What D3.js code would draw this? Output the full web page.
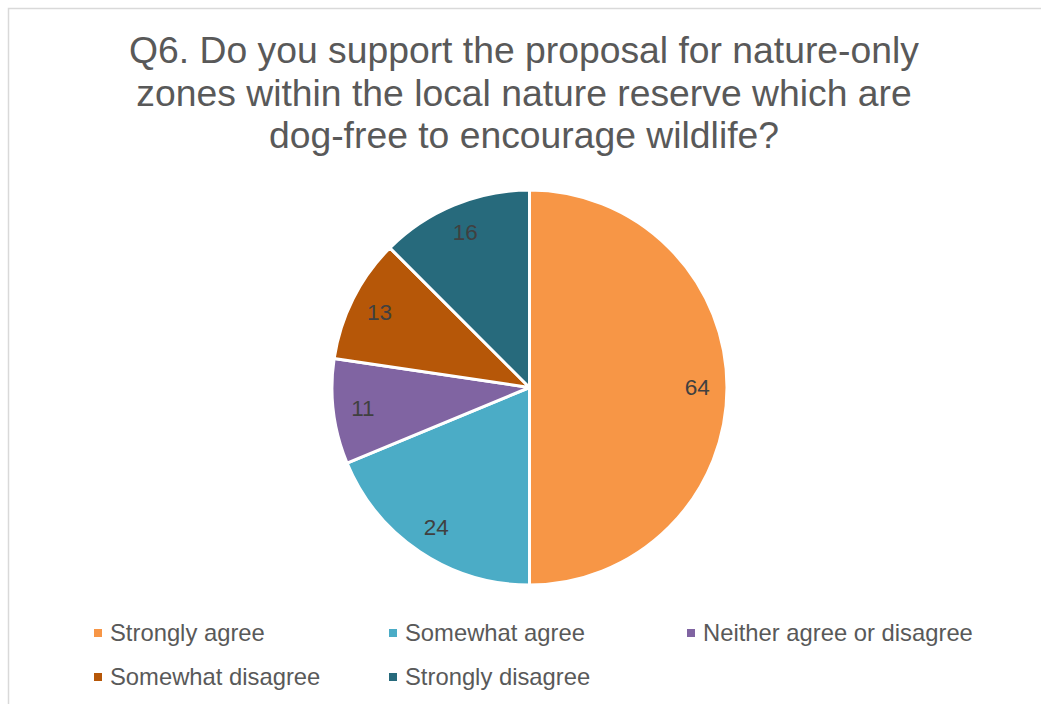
<!DOCTYPE html>
<html><head><meta charset="utf-8">
<script src="https://cdn.jsdelivr.net/npm/d3@7"></script>
<style>body{margin:0;background:#fff}svg{display:block}</style>
</head><body>
<svg id="c" width="1041" height="704"></svg>
<script>
const titleLines = ["Q6. Do you support the proposal for nature-only", "zones within the local nature reserve which are", "dog-free to encourage wildlife?"];
const categories = ["Strongly agree", "Somewhat agree", "Neither agree or disagree", "Somewhat disagree", "Strongly disagree"];
const values = [64, 24, 11, 13, 16];
const colors = ["#F79646", "#4BACC6", "#8064A2", "#B65708", "#276A7C"];

const svg = d3.select("#c");
svg.append("rect").attr("x", 8.5).attr("y", 8.5).attr("width", 1040).attr("height", 700)
  .attr("fill", "#fff").attr("stroke", "#d9d9d9").attr("stroke-width", 1.5);

const font = "'Liberation Sans', Arial, sans-serif";
svg.append("g").selectAll("text").data(titleLines).join("text")
  .attr("x", 524).attr("y", (d, i) => 63 + i * 42.5)
  .attr("text-anchor", "middle").attr("font-family", font).attr("font-size", 37.3)
  .attr("fill", "#595959").text(d => d);

const cx = 529.5, cy = 387.5, r = 197.5;
const pie = d3.pie().sort(null).value(d => d)(values);
const arc = d3.arc().innerRadius(0).outerRadius(r);
const labelArc = d3.arc().innerRadius(r * 0.85).outerRadius(r * 0.85);
const g = svg.append("g").attr("transform", `translate(${cx},${cy})`);
g.selectAll("path").data(pie).join("path")
  .attr("d", arc).attr("fill", (d, i) => colors[i])
  .attr("stroke", "#fff").attr("stroke-width", 3).attr("stroke-linejoin", "round");
g.selectAll("text").data(pie).join("text")
  .attr("transform", d => `translate(${labelArc.centroid(d)})`)
  .attr("text-anchor", "middle").attr("dy", "0.35em")
  .attr("font-family", font).attr("font-size", 22.5).attr("fill", "#404040")
  .text(d => d.data);

const legX = [94, 389, 687], legY = [633, 677];
const leg = svg.append("g").selectAll("g").data(categories).join("g")
  .attr("transform", (d, i) => `translate(${legX[i % 3]},${legY[Math.floor(i / 3)]})`);
leg.append("rect").attr("x", 0).attr("y", -4).attr("width", 8).attr("height", 8)
  .attr("fill", (d, i) => colors[i]);
leg.append("text").attr("x", 16).attr("dy", "0.35em")
  .attr("font-family", font).attr("font-size", 23.8).attr("fill", "#595959").text(d => d);
</script>
</body></html>
